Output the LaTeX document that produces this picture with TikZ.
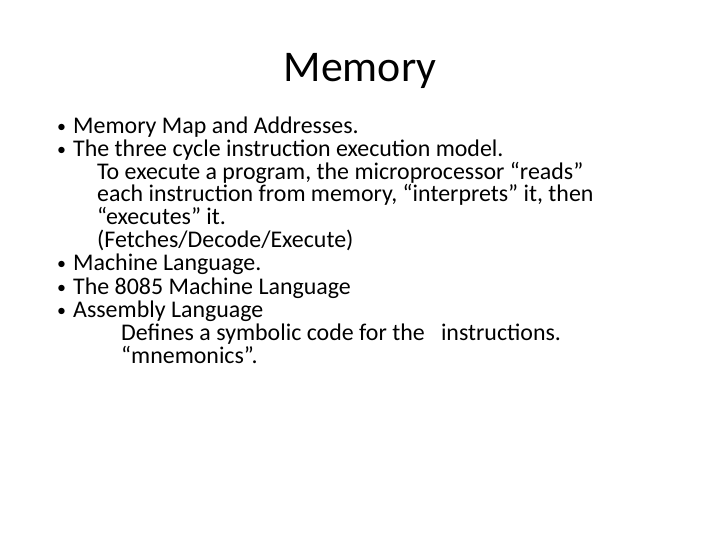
\documentclass[tikz,border=0pt]{standalone}
\usepackage{fontspec}
\setmainfont{Carlito}
\begin{document}
\begin{tikzpicture}[x=1bp,y=-1bp,
  ln/.style={anchor=base west,inner sep=0pt,font=\fontsize{24}{28}\selectfont},
  bl/.style={anchor=base west,inner sep=0pt,font=\fontsize{18}{22}\selectfont}]
\useasboundingbox (0,0) rectangle (720,540);
\node[anchor=base,inner sep=0pt,font=\fontsize{44}{52}\selectfont] (t) at (360,82) {Memory};
\foreach \y/\n in {133/b1,156/b2,270/b3,293/b4,316/b5}
  \node[bl] (\n) at (57,\y) {•};
\node[ln] (l1) at (73,134) {Memory Map and Addresses.};
\node[ln] (l2) at (73,157) {The three cycle instruction execution model.};
\node[ln] (l3) at (97,180) {To execute a program, the microprocessor “reads”};
\node[ln] (l4) at (97,202) {each instruction from memory, “interprets” it, then};
\node[ln] (l5) at (97,225) {“executes” it.};
\node[ln] (l6) at (97,248) {(Fetches/Decode/Execute)};
\node[ln] (l7) at (73,271) {Machine Language.};
\node[ln] (l8) at (73,294) {The 8085 Machine Language};
\node[ln] (l9) at (73,317) {Assembly Language};
\node[ln] (l10) at (121,340) {Defines a symbolic code for the\ \ \ instructions.};
\node[ln] (l11) at (121,363) {“mnemonics”.};
\end{tikzpicture}
\end{document}
